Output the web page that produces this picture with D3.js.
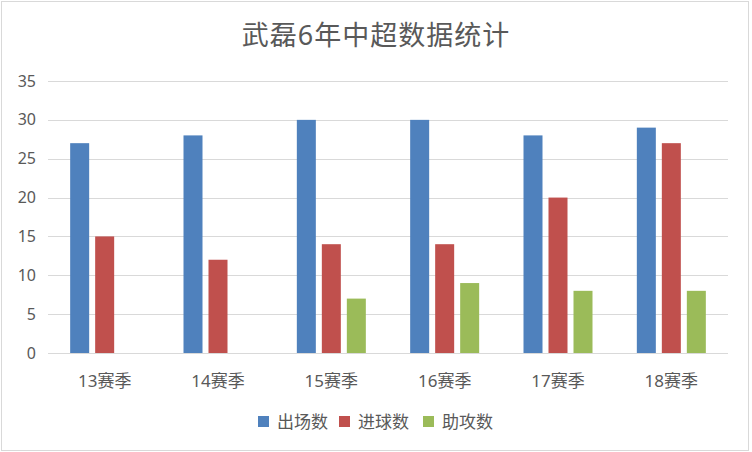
<!DOCTYPE html>
<html>
<head>
<meta charset="utf-8">
<script src="https://cdn.jsdelivr.net/npm/d3@7"></script>
<style>
  html, body { margin: 0; padding: 0; background: #fff; }
  svg { display: block; }
  svg text { font-family: "Noto Sans", "Noto Sans CJK SC", sans-serif; }
</style>
</head>
<body>
<svg id="chart" width="752" height="452"></svg>
<script>
const seasons = ['13赛季', '14赛季', '15赛季', '16赛季', '17赛季', '18赛季'];
const seriesNames = ['出场数', '进球数', '助攻数'];
const appearances = [27, 28, 30, 30, 28, 29];
const goals = [15, 12, 14, 14, 20, 27];
const assists = [0, 0, 7, 9, 8, 8];
const yTicks = [0, 5, 10, 15, 20, 25, 30, 35];
const colors = ['#4F81BD', '#C0504D', '#9BBB59'];

const svg = d3.select('#chart');
const W = 752, H = 452;
const margin = { top: 81, right: 24, bottom: 99, left: 48 };

// chart border
svg.append('rect')
  .attr('x', 1.5).attr('y', 1.5)
  .attr('width', W - 5).attr('height', H - 3)
  .attr('fill', '#fff')
  .attr('stroke', '#D9D9D9')
  .attr('stroke-width', 1);

// title
svg.append('text')
  .attr('x', 376).attr('y', 45)
  .attr('text-anchor', 'middle')
  .attr('fill', '#595959')
  .style('font-size', '27px')
  .style('letter-spacing', '1px')
  .text('武磊6年中超数据统计');

const x0 = d3.scaleBand()
  .domain(seasons)
  .range([margin.left, W - margin.right]);

const x1 = d3.scaleBand()
  .domain(seriesNames)
  .range([0, 69])
  .paddingInner(0.24);

const y = d3.scaleLinear()
  .domain([0, 35])
  .range([H - margin.bottom, margin.top]);

//gridlines
svg.append('g')
  .selectAll('line')
  .data(yTicks)
  .enter()
  .append('line')
  .attr('x1', margin.left)
  .attr('x2', W - margin.right)
  .attr('y1', d => Math.round(y(d)) + 0.5)
  .attr('y2', d => Math.round(y(d)) + 0.5)
  .attr('stroke', '#D9D9D9')
  .attr('stroke-width', 1);

// y axis labels
const yAxis = d3.axisLeft(y).tickValues(yTicks).tickSize(0).tickPadding(0);
const yAxisGroup = svg.append('g')
  .attr('transform', `translate(36,0)`)
  .call(yAxis);
yAxisGroup.select('.domain').remove();
yAxisGroup.attr('font-family', null).attr('font-size', null);
yAxisGroup.selectAll('text')
  .attr('fill', '#595959')
  .style('font-size', '16px');

//bars
const rows = seasons.map((s, i) => ({
  season: s,
  values: [appearances[i], goals[i], assists[i]]
}));

const groupOffset = (x0.bandwidth() - 69) / 2;

const groups = svg.append('g')
  .selectAll('g')
  .data(rows)
  .enter()
  .append('g')
  .attr('transform', d => `translate(${x0(d.season) + groupOffset},0)`);

groups.selectAll('rect')
  .data(d => d.values.map((v, k) => ({ name: seriesNames[k], value: v, k })))
  .enter()
  .append('rect')
  .attr('x', d => x1(d.name))
  .attr('width', x1.bandwidth())
  .attr('y', d => y(d.value))
  .attr('height', d => y(0) - y(d.value))
  .attr('fill', d => colors[d.k]);

// baseline
svg.append('line')
  .attr('x1', margin.left)
  .attr('x2', W - margin.right)
  .attr('y1', Math.round(y(0)) + 0.5)
  .attr('y2', Math.round(y(0)) + 0.5)
  .attr('stroke', '#D9D9D9');

// x axis labels
const xAxis = d3.axisBottom(x0).tickSize(0).tickPadding(0);
const xAxisGroup = svg.append('g')
  .attr('transform', `translate(0,387)`)
  .call(xAxis);
xAxisGroup.select('.domain').remove();
xAxisGroup.attr('font-family', null).attr('font-size', null);
xAxisGroup.selectAll('text')
  .attr('dy', 0)
  .attr('fill', '#595959')
  .style('font-size', '17px');

// legend
const legendX = [258, 339, 423];
const legend = svg.append('g')
  .selectAll('g')
  .data(seriesNames)
  .enter()
  .append('g')
  .attr('transform', (d, i) => `translate(${legendX[i]},416)`);

legend.append('rect')
  .attr('width', 11).attr('height', 11)
  .attr('fill', (d, i) => colors[i]);

legend.append('text')
  .attr('x', 19).attr('y', 12)
  .attr('fill', '#595959')
  .style('font-size', '17px')
  .text(d => d);
</script>
</body>
</html>
